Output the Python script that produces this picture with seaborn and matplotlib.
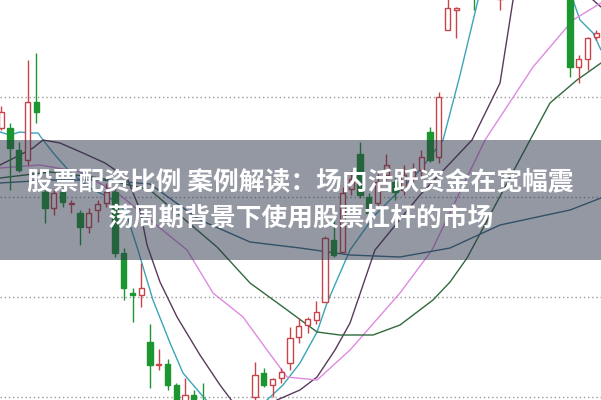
import numpy as np
import pandas as pd
import seaborn as sns
import matplotlib.pyplot as plt

# candle data (one row per trading day)
opens = [28.45, 28.45, 27.35, 26.85, 29.75, 25.25, 24.45, 25.25, 24.65, 24.20,
         23.50, 24.35, 24.70, 25.25, 22.20, 20.20, 20.10, 17.75, 16.60, 16.65,
         15.60, 14.75, 15.10, 14.60, 13.90, 13.40, 13.70, 13.40, 14.10, 15.00,
         16.20, 15.60, 15.95, 16.70, 18.00, 18.60, 18.85, 19.75, 22.85, 22.25,
         25.40, 27.15, 25.00, 24.70, 26.10, 25.75, 25.35, 26.00, 26.35, 28.25,
         27.00, 33.35, 34.35, 35.80, 35.60, 35.10, 36.00, 34.90, 36.10, 36.50,
         36.20, 36.70, 36.40, 37.00, 36.70, 36.20, 31.50, 31.90, 33.00]
closes = [29.25, 27.45, 26.35, 29.75, 29.25, 24.45, 25.20, 24.75, 24.70, 23.50,
          24.20, 24.65, 25.25, 22.20, 20.45, 20.10, 20.45, 16.60, 16.65, 15.60,
          14.60, 15.10, 14.35, 13.85, 13.40, 13.70, 13.30, 14.10, 13.80, 16.10,
          15.60, 15.90, 16.25, 17.95, 18.55, 18.90, 19.25, 22.95, 22.10, 25.20,
          25.90, 25.10, 24.20, 25.75, 26.60, 25.25, 26.10, 26.30, 27.00, 26.85,
          30.00, 34.45, 34.45, 35.20, 35.00, 35.90, 35.40, 36.00, 36.60, 36.10,
          36.80, 36.30, 37.00, 36.60, 36.30, 31.50, 31.90, 32.95, 33.20]
highs = [29.55, 28.70, 27.75, 31.85, 32.20, 25.50, 25.45, 25.45, 24.85, 24.35,
         24.45, 24.85, 25.70, 25.45, 22.45, 20.45, 21.70, 18.65, 17.40, 16.90,
         15.70, 15.95, 15.35, 15.70, 14.20, 14.00, 14.10, 14.50, 14.40, 16.75,
         16.45, 15.95, 16.45, 18.50, 18.95, 19.00, 19.80, 23.05, 23.95, 25.50,
         26.30, 27.75, 25.20, 26.20, 27.15, 26.00, 26.60, 26.70, 27.35, 28.50,
         30.25, 35.20, 34.50, 36.20, 36.00, 36.30, 36.40, 36.50, 37.00, 36.90,
         37.20, 37.00, 37.40, 37.30, 37.10, 36.40, 32.10, 33.00, 33.35]
lows = [28.35, 25.35, 26.25, 26.60, 28.70, 23.70, 24.10, 24.50, 24.20, 22.60,
        23.20, 23.75, 24.50, 22.00, 19.85, 18.75, 19.50, 15.45, 16.35, 15.35,
        14.35, 14.60, 14.10, 13.60, 13.10, 13.00, 13.00, 13.20, 13.50, 14.85,
        15.50, 15.00, 15.70, 16.35, 17.70, 18.20, 18.65, 19.75, 22.00, 22.20,
        25.10, 24.95, 24.00, 24.50, 25.85, 24.85, 25.10, 25.70, 26.00, 26.75,
        26.70, 33.35, 32.95, 35.00, 34.35, 34.95, 35.00, 34.35, 35.70, 35.80,
        35.90, 35.95, 36.10, 36.20, 35.90, 31.00, 30.70, 31.35, 32.85]

# moving average lines (day index, price)
ma_fast_x = [-0.14, 1.0, 2.14, 3.29, 4.2, 4.77, 6.14, 7.86, 10.14, 12.43, 14.14, 15.63,
             16.2, 17.34, 19.29, 20.77, 22.71, 24.43, 27.29, 30.37, 32.2, 34.14, 36.09,
             37.23, 39.86, 42.71, 45.57, 47.86, 50.49, 52.43, 54.49, 59.5, 63.5, 65.34,
             66.14, 67.63, 68.54]
ma_fast_y = [28.25, 28.1, 28.25, 28.2, 28.2, 27.85, 27.1, 26.25, 25.45, 24.95, 24.35, 22.35,
             21.5, 19.85, 17.7, 16.2, 15.2, 14.35, 13.85, 14.85, 15.6, 16.7, 18.25,
             19.7, 22.35, 24.1, 25.35, 26.35, 27.85, 31.1, 34.85, 37.5, 36.2, 34.85,
             33.85, 33.2, 32.35]
ma_10_x = [-0.14, 2.14, 3.63, 4.77, 6.71, 9.34, 11.86, 14.37, 15.86, 16.66, 18.14, 20.09,
           22.71, 25.0, 26.71, 29.0, 31.51, 34.14, 36.09, 38.14, 39.86, 42.71, 47.86,
           53.8, 57.0, 58.49, 61.57, 66.14, 67.63, 68.54]
ma_10_y = [26.6, 27.1, 27.45, 27.85, 27.7, 27.2, 26.7, 25.95, 24.35, 22.6, 20.75, 19.0,
           17.1, 15.6, 14.6, 14.1, 14.85, 15.35, 16.0, 17.35, 18.7, 22.35, 25.1,
           27.85, 30.7, 34.85, 36.85, 35.85, 34.85, 34.5]
ma_20_x = [-0.14, 4.43, 9.0, 13.57, 18.14, 21.23, 24.2, 27.63, 30.37, 32.66, 36.09, 39.86,
           45.57, 49.23, 55.29, 60.77, 65.34, 68.54]
ma_20_y = [26.45, 26.6, 26.25, 25.1, 23.45, 22.35, 20.2, 19.0, 17.35, 16.0, 15.85, 17.35,
           20.2, 22.35, 27.85, 31.5, 33.85, 34.7]
ma_60_x = [-0.14, 5.57, 11.29, 17.0, 24.66, 28.43, 32.2, 36.09, 38.71, 42.49, 45.57, 49.34,
           51.29, 53.23, 55.86, 60.43, 62.71, 65.8, 68.54]
ma_60_y = [25.95, 26.25, 25.95, 25.35, 22.5, 20.7, 19.5, 18.25, 18.1, 18.1, 18.6, 19.85,
           20.75, 21.95, 24.1, 27.85, 29.7, 30.85, 31.7]
ma_120_x = [-0.14, 5.57, 11.29, 17.0, 22.71, 28.43, 34.14, 39.86, 45.57, 51.29, 57.0,
            65.0, 68.54]
ma_120_y = [25.7, 25.85, 25.85, 25.65, 23.85, 22.75, 22.45, 22.1, 22.0, 22.45, 23.6,
            24.35, 24.95]

grid_levels = [30, 25, 20, 15]
title_lines = ["股票配资比例 案例解读：场内活跃资金在宽幅震", "荡周期背景下使用股票杠杆的市场"]

sns.set_style("white")
plt.rcParams['font.family'] = ['Noto Sans CJK SC', 'DejaVu Sans']

up_color = "#c9434b"
down_color = "#1c9630"

fig = plt.figure(figsize=(6.01, 4.0), dpi=100)
ax = fig.add_axes([0, 0, 1, 1])

for level in grid_levels:
    ax.axhline(level, color="#9a9a9a", lw=1.0, ls=(0, (1, 2)), zorder=0)

# moving averages via seaborn
ma_frames = []
for name, xs, ys in [("ma5", ma_fast_x, ma_fast_y), ("ma10", ma_10_x, ma_10_y),
                     ("ma20", ma_20_x, ma_20_y), ("ma60", ma_60_x, ma_60_y),
                     ("ma120", ma_120_x, ma_120_y)]:
    ma_frames.append(pd.DataFrame({"day": xs, "price": ys, "line": name}))
ma_df = pd.concat(ma_frames, ignore_index=True)
palette = {"ma5": "#3aa5b8", "ma10": "#5a3a5c", "ma20": "#e08ae0",
           "ma60": "#2f6a3c", "ma120": "#3b6e86"}
sns.lineplot(data=ma_df, x="day", y="price", hue="line", palette=palette,
             sort=False, estimator=None, lw=1.0, legend=False, ax=ax, zorder=2)

# candles
candles = pd.DataFrame({"open": opens, "close": closes, "high": highs, "low": lows})
candles["day"] = np.arange(len(candles))
for _, row in candles.iterrows():
    rising = row["close"] >= row["open"]
    col = up_color if rising else down_color
    ax.vlines(row["day"], row["low"], row["high"], color=col, lw=1.0, zorder=3)
    bottom = min(row["open"], row["close"])
    height = max(abs(row["close"] - row["open"]), 0.06)
    ax.bar(row["day"], height, bottom=bottom, width=0.6,
           facecolor="white" if rising else col, edgecolor=col, lw=1.0, zorder=4)

ax.set_xlim(-0.143, 68.54)
ax.set_ylim(14.85, 34.85)
ax.axis("off")

# title banner
ax.axhspan(21.85, 27.85, color="#2b3348", alpha=0.5, lw=0, zorder=5)
fig.text(0.5, 0.5425, title_lines[0], ha="center", va="center", color="white",
         fontsize=18.5, fontweight="bold", zorder=6)
fig.text(0.5, 0.455, title_lines[1], ha="center", va="center", color="white",
         fontsize=18.5, fontweight="bold", zorder=6)

fig.savefig("out.png", dpi=100)
